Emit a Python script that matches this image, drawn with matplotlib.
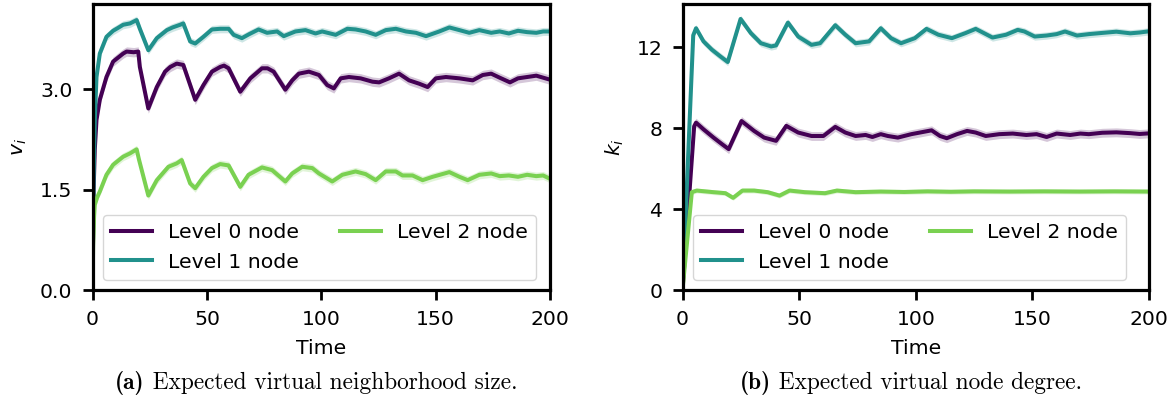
import matplotlib

matplotlib.use("Agg")
import matplotlib.pyplot as plt  # noqa: E402

# --- (a) virtual neighborhood size v_i ---
t_v0 = [0, 0.5, 1, 1.75, 3.2, 6.1, 9.0, 13.4, 14.9, 18, 20.0, 20.7, 24.4, 28.1, 31.7, 34, 36.8,
        39.7, 44.9, 48.5, 52.2, 55.8, 57.5, 59.5, 64.6, 69, 74.1, 76.5, 79.2, 84.3, 87.3, 90.2,
        94.6, 99, 102.6, 105.5, 108.5, 112.1, 117.2, 122.4, 125.3, 129.6, 134.0, 138.4, 142.8,
        146.5, 150.1, 154.5, 160.4, 166.2, 170.6, 174.3, 178, 182.5, 186, 190, 194, 197, 200]
v0 = [0, 1.5, 2.1, 2.54, 2.84, 3.18, 3.41, 3.53, 3.56, 3.55, 3.56, 3.33, 2.71, 3.03, 3.26, 3.33,
      3.38, 3.36, 2.84, 3.06, 3.26, 3.33, 3.35, 3.31, 2.96, 3.16, 3.31, 3.31, 3.26, 2.99, 3.13,
      3.23, 3.26, 3.21, 3.06, 3.01, 3.16, 3.18, 3.16, 3.11, 3.10, 3.16, 3.23, 3.13, 3.08, 3.03,
      3.16, 3.18, 3.16, 3.13, 3.21, 3.23, 3.17, 3.10, 3.16, 3.18, 3.20, 3.17, 3.14]

t_v1 = [0, 0.5, 1.0, 1.75, 3.2, 6.1, 9.0, 11, 13.4, 16.4, 19.3, 20.7, 24.4, 28.1, 32.5, 35, 38.3,
        39.7, 42.7, 44.9, 48.5, 52.2, 55.8, 59.5, 61.7, 65.3, 68.5, 72.6, 76.3, 80.7, 83.6, 86.5,
        88.7, 93.1, 97.5, 100.4, 106.3, 111.4, 115, 119.4, 123.8, 128.2, 132.6, 137, 141.4,
        145.8, 151.6, 156, 160.4, 164.7, 169.1, 174.3, 178, 182, 186, 190, 194, 197, 200]
v1 = [0, 1.7, 2.54, 3.18, 3.53, 3.78, 3.87, 3.91, 3.96, 3.98, 4.03, 3.90, 3.58, 3.76, 3.88, 3.92,
      3.96, 3.98, 3.71, 3.68, 3.78, 3.89, 3.90, 3.90, 3.81, 3.76, 3.82, 3.89, 3.84, 3.86, 3.79,
      3.83, 3.86, 3.88, 3.83, 3.86, 3.81, 3.90, 3.89, 3.86, 3.81, 3.88, 3.90, 3.86, 3.84, 3.79,
      3.86, 3.92, 3.88, 3.84, 3.88, 3.84, 3.86, 3.83, 3.87, 3.85, 3.84, 3.86, 3.86]

t_v2 = [0, 0.3, 0.7, 1.0, 2.0, 3.2, 6.1, 9.0, 13.4, 16.4, 19.3, 20.3, 24.4, 28.1, 33.2, 36.8,
        39.0, 42.7, 44.9, 48.5, 52.2, 55.8, 59.5, 64.6, 68.2, 74.1, 78.5, 84.3, 87.3, 91.7, 96.1,
        99, 104.8, 109.2, 115, 119.4, 123.8, 128.2, 132.6, 135.5, 139.9, 144.3, 148.7, 156,
        160.4, 164, 169.1, 174.3, 178, 182, 186, 190, 194, 197, 200]
v2 = [0, 0.7, 1.1, 1.27, 1.38, 1.47, 1.72, 1.87, 1.99, 2.04, 2.10, 1.95, 1.41, 1.64, 1.84, 1.89,
      1.94, 1.59, 1.52, 1.69, 1.82, 1.88, 1.86, 1.54, 1.72, 1.83, 1.79, 1.62, 1.74, 1.84, 1.82,
      1.74, 1.62, 1.72, 1.77, 1.73, 1.64, 1.77, 1.77, 1.71, 1.71, 1.64, 1.69, 1.76, 1.69, 1.64,
      1.72, 1.74, 1.70, 1.71, 1.69, 1.72, 1.70, 1.71, 1.66]

# --- (b) virtual node degree k_i ---
t_k0 = [0, 5.0, 5.8, 9.0, 13.3, 17.0, 19.8, 25.3, 30.7, 35.0, 40.1, 44.5, 49.6, 55.3, 60.4, 65.5,
        69.8, 74.2, 78.5, 81.4, 85, 88, 92.3, 98.1, 106.8, 110.4, 113.3, 117.7, 122, 125.7, 130,
        135.8, 141.6, 147.4, 151.8, 156.1, 160.4, 166.2, 170.6, 174.2, 180, 186, 192, 196, 200]
k0 = [0, 8.1, 8.28, 7.95, 7.54, 7.21, 6.97, 8.36, 7.87, 7.54, 7.38, 8.12, 7.79, 7.62, 7.62, 8.07,
      7.79, 7.62, 7.67, 7.57, 7.71, 7.62, 7.54, 7.71, 7.90, 7.62, 7.51, 7.71, 7.87, 7.79, 7.62,
      7.71, 7.74, 7.67, 7.71, 7.57, 7.74, 7.67, 7.74, 7.71, 7.78, 7.80, 7.76, 7.72, 7.75]

t_k1 = [0, 4.6, 5.8, 9.0, 12.6, 16.2, 19.4, 24.9, 29.3, 33.6, 38.0, 40.1, 45.2, 49.6, 55.3, 59.0,
        65.5, 69.8, 74.2, 80, 85, 89.4, 93.7, 99.6, 104.6, 109.7, 115.5, 121.3, 125.7, 132.9,
        138.7, 143.7, 146.6, 151, 156.1, 160.4, 164, 169.1, 174.2, 180, 186, 192, 196, 200]
k1 = [0, 12.6, 12.95, 12.3, 11.89, 11.56, 11.28, 13.41, 12.71, 12.21, 12.05, 12.1, 13.23, 12.54,
      12.13, 12.21, 13.1, 12.63, 12.21, 12.3, 12.95, 12.46, 12.21, 12.46, 12.92, 12.63, 12.46,
      12.71, 12.92, 12.49, 12.63, 12.87, 12.79, 12.54, 12.59, 12.66, 12.79, 12.59, 12.66, 12.72,
      12.78, 12.70, 12.74, 12.80]

t_k2 = [0, 4.0, 6.1, 13.3, 18.4, 21.7, 25.7, 30.7, 36.5, 41.6, 45.9, 52.4, 61.1, 66.2, 74.2, 85,
        95, 105, 115, 125, 140, 155, 170, 185, 200]
k2 = [0, 4.84, 4.92, 4.84, 4.79, 4.56, 4.92, 4.92, 4.84, 4.67, 4.92, 4.84, 4.79, 4.92, 4.84, 4.87,
      4.85, 4.88, 4.86, 4.88, 4.87, 4.88, 4.87, 4.88, 4.87]

# half-width of the shaded band around each mean
band_v = [0.07, 0.06, 0.06]
band_k = [0.22, 0.18, 0.12]

labels = ["Level 0 node", "Level 1 node", "Level 2 node"]
colors = ["#440154", "#21918c", "#7ad151"]

plt.rcParams["font.size"] = 14.7

fig = plt.figure(figsize=(11.76, 4.01), dpi=100)
ax_a = fig.add_axes([92.5 / 1176, 111 / 401, 457.5 / 1176, 286 / 401])
ax_b = fig.add_axes([682.5 / 1176, 111 / 401, 466.5 / 1176, 286 / 401])


def draw(ax, series, bands, ylim, yticks, ylabel, fmt):
    for (t, y), b, lab, c in zip(series, bands, labels, colors):
        lo = [v - b for v in y]
        hi = [v + b for v in y]
        ax.fill_between(t, lo, hi, color=c, alpha=0.22, lw=0)
        ax.plot(t, y, color=c, lw=2.9, label=lab)
    ax.set_xlim(0, 200)
    ax.set_ylim(*ylim)
    ax.set_xticks([0, 50, 100, 150, 200])
    ax.set_yticks(yticks)
    ax.set_yticklabels([fmt.format(v) for v in yticks])
    ax.set_xlabel("Time", labelpad=7)
    ax.set_ylabel(ylabel, labelpad=8)
    for s in ax.spines.values():
        s.set_linewidth(2.3)
    ax.tick_params(length=7.5, width=2.0, pad=7)
    ax.legend(loc="lower left", ncol=2)


def caption(xc, tag, text):
    # bold "(a)" in Computer Modern bold, rest in Computer Modern roman
    renderer = fig.canvas.get_renderer()
    t1 = fig.text(0, 0.045, tag, family="cmb10", fontsize=16.8, va="center")
    t2 = fig.text(0, 0.045, " " + text, family="cmr10", fontsize=16.8, va="center")
    w1 = t1.get_window_extent(renderer).width / fig.bbox.width
    w2 = t2.get_window_extent(renderer).width / fig.bbox.width
    x0 = xc - (w1 + w2) / 2
    t1.set_x(x0)
    t2.set_x(x0 + w1)


draw(ax_a, [(t_v0, v0), (t_v1, v1), (t_v2, v2)], band_v, (0, 4.27), [0.0, 1.5, 3.0], "$v_i$", "{:.1f}")
draw(ax_b, [(t_k0, k0), (t_k1, k1), (t_k2, k2)], band_k, (0, 14.15), [0, 4, 8, 12], "$k_i$", "{:.0f}")

caption(0.269, "(a)", "Expected virtual neighborhood size.")
caption(0.775, "(b)", "Expected virtual node degree.")

fig.savefig("out.png", dpi=100)
